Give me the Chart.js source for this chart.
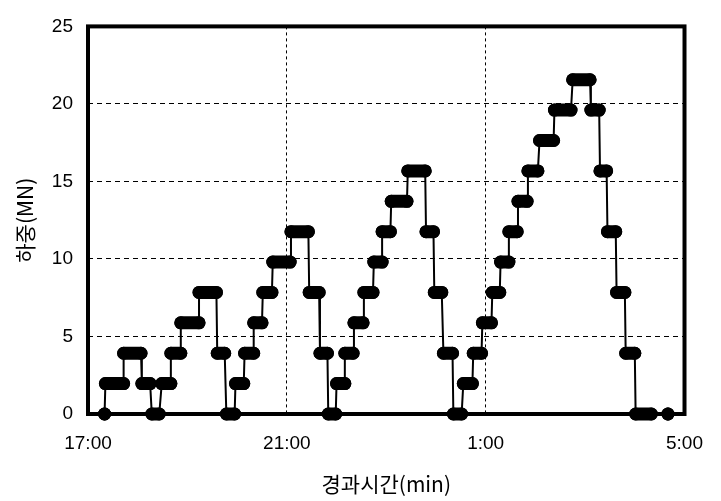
<!DOCTYPE html>
<html>
<head>
<meta charset="utf-8">
<script src="https://cdn.jsdelivr.net/npm/chart.js@4/dist/chart.umd.min.js"></script>
<style>
  html, body { margin: 0; padding: 0; background: #fff; }
  #load_chart { display: block; }
</style>
</head>
<body>
<canvas id="load_chart" width="721" height="501"></canvas>
<script>
// 재하 단계: 시작/종료 (17:00 기준 경과 분), 하중 (MN)
const holdStart = [20, 21, 43, 65, 77, 89, 100, 112, 134, 156, 167, 178, 189, 200, 211, 223, 245, 267, 280, 290,
  300, 310, 321, 333, 345, 355, 366, 386, 408, 418, 429, 441, 453, 465, 476, 488, 498, 508, 519, 531,
  545, 563, 585, 607, 618, 627, 638, 649, 661, 700]
const holdEnd = [20, 43, 64, 75, 86, 100, 112, 134, 155, 165, 177, 188, 200, 210, 222, 244, 266, 279, 289, 299,
  310, 320, 332, 344, 355, 365, 385, 407, 417, 427, 440, 451, 464, 475, 487, 497, 508, 518, 530, 543,
  562, 583, 606, 617, 626, 637, 648, 660, 680, 700]
const holdLoad = [0, 1.96, 3.92, 1.96, 0, 1.96, 3.92, 5.88, 7.84, 3.92, 0, 1.96, 3.92, 5.88, 7.84, 9.8, 11.76, 7.84, 3.92, 0,
  1.96, 3.92, 5.88, 7.84, 9.8, 11.76, 13.72, 15.68, 11.76, 7.84, 3.92, 0, 1.96, 3.92, 5.88, 7.84, 9.8, 11.76, 13.72, 15.68,
  17.64, 19.6, 21.56, 19.6, 15.68, 11.76, 7.84, 3.92, 0, 0]

const timeTicks = [0, 240, 480, 720]
const timeLabels = ['17:00', '21:00', '1:00', '5:00']
const loadTicks = [0, 5, 10, 15, 20, 25]

// 연결선: 각 단계의 시작점과 끝점을 순서대로
let pathData = []
// 단계 유지 구간: 구간마다 끊어서 굵은 선으로
let holdData = []
for (let i = 0; i < holdLoad.length; i++) {
  pathData.push({ x: holdStart[i], y: holdLoad[i] })
  pathData.push({ x: holdEnd[i], y: holdLoad[i] })
  holdData.push({ x: holdStart[i], y: holdLoad[i] })
  holdData.push({ x: holdEnd[i], y: holdLoad[i] })
  holdData.push({ x: holdEnd[i], y: null })
}

// 그림 영역 테두리
const frame_plugin = {
  id: 'frame',
  beforeDatasetsDraw(chart) {
    const a = chart.chartArea
    const ctx = chart.ctx
    ctx.save()
    ctx.strokeStyle = '#000'
    ctx.lineWidth = 4
    ctx.strokeRect(a.left, a.top, a.right - a.left, a.bottom - a.top)
    ctx.restore()
  },
}

Chart.defaults.color = '#000'

let config = {
  type: 'line',
  data: {
    datasets: [
      {
        label: 'path',
        data: pathData,
        borderColor: '#000',
        borderWidth: 2,
        pointRadius: 0,
        tension: 0,
        clip: false,
      },
      {
        label: 'hold',
        data: holdData,
        borderColor: '#000',
        borderWidth: 13,
        borderCapStyle: 'round',
        pointRadius: 6.5,
        pointBorderWidth: 0,
        pointBackgroundColor: '#000',
        spanGaps: false,
        tension: 0,
        clip: false,
      },
    ],
  },
  options: {
    responsive: false,
    animation: false,
    layout: { padding: { top: 16, right: 26, bottom: 0, left: 0 } },
    plugins: {
      legend: { display: false },
      tooltip: { enabled: false },
    },
    scales: {
      x: {
        type: 'linear',
        min: 0,
        max: 720,
        afterBuildTicks: (scale) => {
          scale.ticks = timeTicks.map((v) => ({ value: v }))
        },
        afterFit: (scale) => {
          scale.height = 87
        },
        ticks: {
          autoSkip: false,
          maxRotation: 0,
          padding: 18,
          font: { family: 'Liberation Sans', size: 19 },
          callback: (value) => timeLabels[timeTicks.indexOf(value)],
        },
        grid: { color: '#000', lineWidth: 1, drawTicks: false },
        border: { display: false, dash: [3, 3] },
        title: {
          display: true,
          text: '경과시간(min)',
          font: { family: 'Noto Sans CJK KR', size: 21 },
          padding: { top: 4, bottom: 4 },
        },
      },
      y: {
        min: 0,
        max: 25,
        afterBuildTicks: (scale) => {
          scale.ticks = loadTicks.map((v) => ({ value: v }))
        },
        afterFit: (scale) => {
          scale.width = 88
        },
        ticks: {
          padding: 15,
          font: { family: 'Liberation Sans', size: 19 },
        },
        grid: { color: '#000', lineWidth: 1, drawTicks: false },
        border: { display: false, dash: [5, 4] },
        title: {
          display: true,
          text: '하중(MN)',
          font: { family: 'Noto Sans CJK KR', size: 21 },
          padding: { top: 12, bottom: 4 },
        },
      },
    },
  },
  plugins: [frame_plugin],
}

let load_chart = new Chart(document.getElementById('load_chart'), config)
</script>
</body>
</html>
